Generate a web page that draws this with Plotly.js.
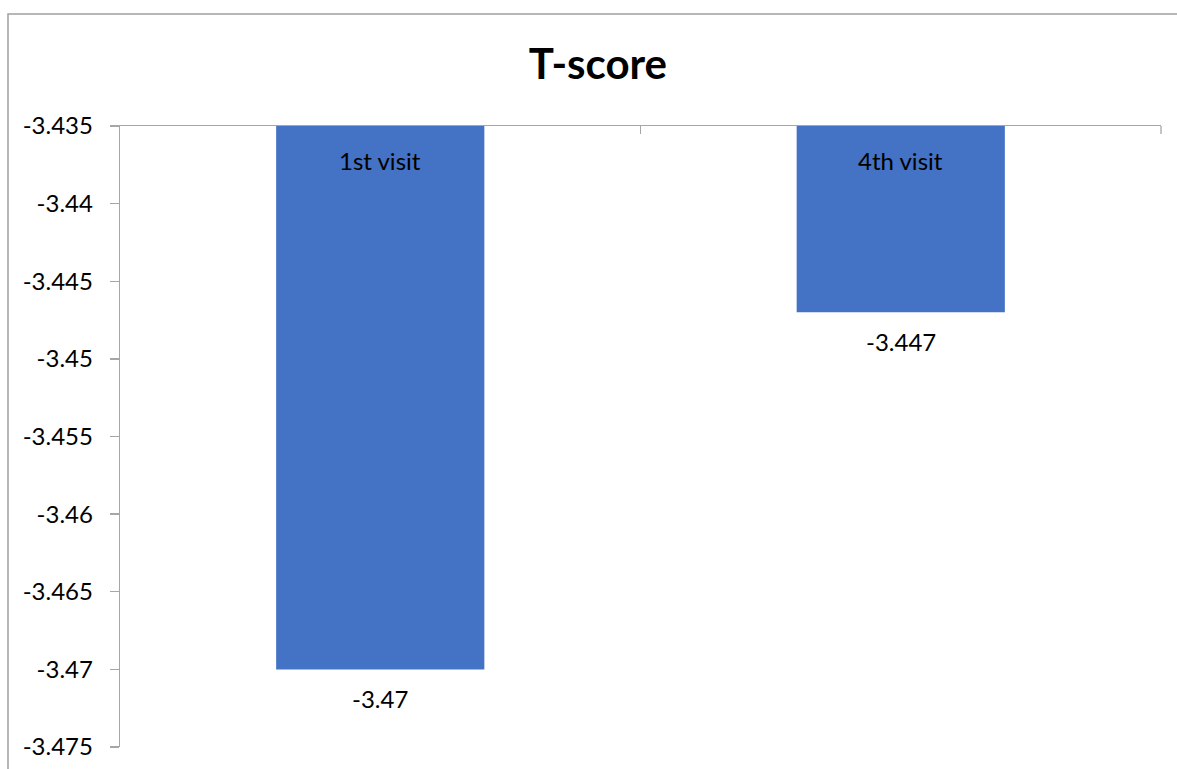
<!DOCTYPE html>
<html>
<head>
<meta charset="utf-8">
<script src="https://cdn.plot.ly/plotly-3.0.1.min.js"></script>
<style>
  html, body { margin: 0; padding: 0; background: #ffffff; }
  #chart { width: 1177px; height: 769px; }
</style>
</head>
<body>
<div id="chart"></div>
<script>
// T-score per visit
const visits = ['1st visit', '4th visit'];
const tScores = [-3.47, -3.447];

// Value axis: bars hang from the top crossing value
const axisTop = -3.435;
const axisBottom = -3.475;
const yTickVals = [-3.435, -3.44, -3.445, -3.45, -3.455, -3.46, -3.465, -3.47, -3.475];
const yTickText = ['-3.435', '-3.44', '-3.445', '-3.45', '-3.455', '-3.46', '-3.465', '-3.47', '-3.475'];

const FONT = 'Lato, "Open Sans", sans-serif';
const BAR_BLUE = '#4472C4';
const AXIS_GREY = '#a6a6a6';

const trace = {
  type: 'bar',
  x: visits,
  base: visits.map(() => axisTop),
  y: tScores.map(v => v - axisTop),
  marker: { color: BAR_BLUE, line: { width: 0 } },
  hoverinfo: 'skip'
};

const annotations = [];
visits.forEach((name, i) => {
  // category name just under the crossing line, inside the bar
  annotations.push({
    x: name, y: axisTop, xref: 'x', yref: 'y',
    text: name, showarrow: false, yshift: -34,
    font: { family: FONT, size: 24, color: '#000000' }
  });
  // value label below the end of the bar
  annotations.push({
    x: name, y: tScores[i], xref: 'x', yref: 'y',
    text: String(tScores[i]), showarrow: false, yshift: -29,
    font: { family: FONT, size: 24, color: '#000000' }
  });
});

const layout = {
  width: 1177,
  height: 769,
  margin: { l: 120, r: 16, t: 126, b: 22, pad: 0 },
  paper_bgcolor: '#ffffff',
  plot_bgcolor: '#ffffff',
  showlegend: false,
  bargap: 0.6,
  title: {
    text: '<b>T-score</b>',
    x: 0.508, xref: 'container', xanchor: 'center',
    y: 0.917, yref: 'container', yanchor: 'middle',
    font: { family: FONT, size: 42, color: '#000000' }
  },
  xaxis: {
    type: 'category',
    side: 'top',
    showline: true,
    linecolor: AXIS_GREY,
    linewidth: 1.3,
    ticks: 'inside',
    tickson: 'boundaries',
    ticklen: 8,
    tickcolor: AXIS_GREY,
    tickwidth: 1.3,
    showticklabels: false,
    showgrid: false,
    zeroline: false,
    fixedrange: true
  },
  yaxis: {
    range: [axisBottom, axisTop],
    tickmode: 'array',
    tickvals: yTickVals,
    ticktext: yTickText,
    showline: true,
    linecolor: AXIS_GREY,
    linewidth: 1.3,
    ticks: 'outside',
    ticklen: 9,
    tickcolor: AXIS_GREY,
    tickwidth: 1.3,
    ticklabelstandoff: 12,
    tickfont: { family: FONT, size: 24, color: '#000000' },
    showgrid: false,
    zeroline: false,
    fixedrange: true
  },
  annotations: annotations,
  shapes: [
    {
      // chart-area frame
      type: 'rect', xref: 'paper', yref: 'paper',
      x0: -0.1076, x1: 1.2, y0: -0.2, y1: 1.1804,
      line: { color: '#a0a0a0', width: 1.5 },
      fillcolor: 'rgba(0,0,0,0)',
      layer: 'below'
    },
    {
      // closing tick at the right end of the category axis
      type: 'line', xref: 'paper', yref: 'paper',
      x0: 1, x1: 1, y0: 1, y1: 0.987,
      line: { color: AXIS_GREY, width: 1.3 }
    }
  ]
};

Plotly.newPlot('chart', [trace], layout, { displayModeBar: false, staticPlot: true });
</script>
</body>
</html>
